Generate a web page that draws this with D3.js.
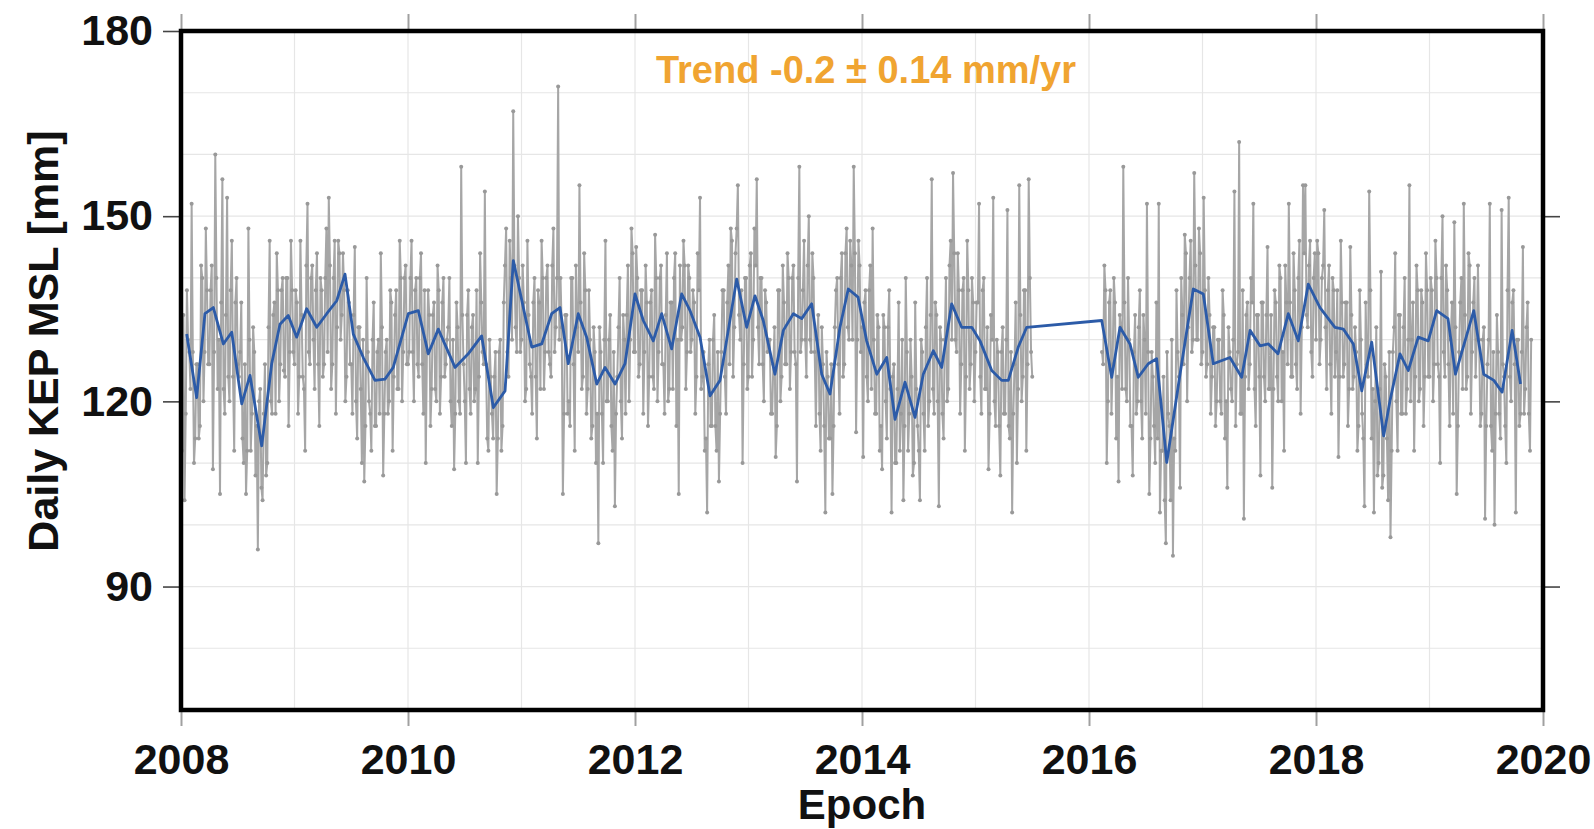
<!DOCTYPE html>
<html><head><meta charset="utf-8">
<script src="https://cdn.jsdelivr.net/npm/d3@7"></script>
<style>
body{margin:0;background:#fff}
svg{display:block}
text{font-family:"Liberation Sans",Arial,Helvetica,sans-serif;font-weight:bold}
</style>
</head><body>
<svg id="chart" width="1594" height="829"></svg>
<script>
// ---------- data ----------
const yTickValues = [90, 120, 150, 180];
const xTickValues = [2008, 2010, 2012, 2014, 2016, 2018, 2020];
const yGridValues = [80, 90, 100, 110, 120, 130, 140, 150, 160, 170];
const xGridValues = [2009, 2010, 2011, 2012, 2013, 2014, 2015, 2016, 2017, 2018, 2019];
const trendLabel = "Trend -0.2 \u00b1 0.14 mm/yr";
const yAxisTitle = "Daily KEP MSL [mm]";
const xAxisTitle = "Epoch";

// daily samples: each year array starts at the given epoch, 4 "wide" + 4 "core" samples per month
const dailyStarts = [2008, 2009, 2010, 2011, 2012, 2013, 2014, 2015, 2016 + 5/48, 2017, 2018, 2019];
const daily2008 = [112,104,138,128, 152,110,126,114, 142,120,148,126, 138,109,160,122, 105,156,118,153, 120,146,112,140,
                   124,136,110,105, 148,112,132,108, 96,122,104,126, 110,146,118,136, 144,120,138,125, 140,116,146,128];
const daily2009 = [138,118,146,124, 112,152,126,142, 122,144,116,138, 126,148,153,122, 140,118,146,130, 144,120,138,126,
                   118,145,114,132, 110,107,140,120, 112,136,116,130, 144,108,128,118, 138,112,134,122, 146,120,140,126];
const daily2010 = [128,146,120,140, 124,144,118,110, 138,116,134,122, 142,118,136,124, 130,140,116,109, 136,120,158,126,
                   110,138,118,134, 122,110,144,128, 154,114,130,118, 124,105,128,112, 136,148,124,140, 167,132,150,128];
const daily2011 = [142,120,146,126, 118,140,114,136, 146,122,140,128, 124,148,132,171, 140,105,134,118, 116,140,112,132,
                   155,122,144,118, 138,114,132,110, 97,128,110,146, 120,134,112,103, 124,140,114,130, 134,120,148,128];
const daily2012 = [145,124,138,118, 142,116,136,124, 147,120,140,126, 118,144,122,136, 140,116,105,130, 146,122,142,128,
                   138,118,144,153, 124,112,102,130, 116,134,112,107, 128,138,118,142, 148,124,144,155, 130,110,140,122];
const daily2013 = [142,124,148,156, 126,140,120,136, 130,118,126,111, 138,120,142,126, 144,122,140,128, 107,158,130,146,
                   124,150,128,140, 116,134,112,126, 102,124,114,105, 132,140,118,144, 126,148,130,142, 158,115,146,128];
const daily2014 = [111,138,120,142, 148,118,134,112, 109,132,114,138, 102,126,110,136, 118,104,140,112, 130,108,136,116,
                   104,128,112,140, 120,156,118,134, 103,130,114,140, 122,146,157,130, 144,118,138,112, 146,122,140,120];
const daily2015 = [136,152,118,140, 122,109,134,153, 116,128,108,132, 118,151,114,102, 126,110,155,120, 138,112,156,128];
const daily2016 = [128,142,110, 136,118,140,114, 107,132,158,122, 140,116,108,134, 120,138,114,130, 152,105,128,116,
                   136,152,112,124, 97,118,104,95, 112,128,106,134, 147,120,140,128, 157,130,148,126];
const daily2017 = [153,124,140,118, 132,116,130,120, 138,114,106,128, 120,154,126,162, 118,101,134,122, 140,152,116,134,
                   108,136,120,145, 122,106,138,124, 142,120,112,136, 152,124,144,126, 140,118,155,155, 132,146,124,144];
const daily2018 = [146,126,140,151, 122,142,118,138, 128,111,146,124, 136,116,145,122, 132,112,138,118, 103,126,154,114,
                   102,132,110,141, 108,124,104,98, 128,144,112,134, 118,140,122,155, 130,112,142,120, 138,116,144,124];
const daily2019 = [140,120,146,126, 110,150,124,138, 116,136,149,105, 128,140,152,122, 144,118,136,124, 142,116,130,101,
                   126,152,112,100, 134,118,151,124, 110,153,120,138, 102,130,118,145, 122,136,112];

const core2008 = [134,118,130,122, 128,114,126,116, 140,128,138,126, 142,128,140,130, 136,122,134,124, 138,124,136,126,
                  128,114,126,112, 130,118,128,116, 120,106,118,108, 132,120,134,118, 138,126,140,124, 140,128,138,126];
const core2009 = [136,124,134,122, 142,128,140,130, 138,126,140,124, 140,128,142,126, 146,132,144,134, 138,124,136,126,
                  134,120,132,122, 130,116,128,118, 130,116,128,118, 132,118,130,120, 136,124,138,122, 140,128,142,126];
const core2010 = [140,128,138,126, 140,126,138,128, 134,122,136,120, 138,124,140,126, 132,120,130,118, 132,118,134,120,
                  134,122,132,120, 138,124,136,126, 126,112,124,114, 128,114,130,116, 142,128,146,130, 142,128,140,130];
const core2011 = [136,122,134,124, 136,124,138,122, 140,128,142,126, 142,128,140,130, 132,118,134,120, 140,126,142,128,
                  136,124,138,122, 130,116,128,118, 132,118,130,120, 130,116,128,118, 132,120,134,118, 142,130,144,128];
const core2012 = [140,126,138,128, 136,124,138,122, 140,128,142,126, 134,120,136,122, 144,130,142,132, 142,128,140,130,
                  136,124,138,122, 128,114,126,116, 130,116,128,118, 138,124,136,126, 146,132,148,134, 138,126,140,124];
const core2013 = [144,130,142,132, 140,126,138,128, 130,118,132,116, 138,124,136,126, 140,128,142,126, 140,128,138,130,
                  142,130,144,128, 130,118,132,116, 128,114,126,116, 138,126,140,124, 144,132,146,130, 144,130,142,132];
const core2014 = [136,124,138,122, 130,118,132,116, 134,120,132,122, 124,110,122,112, 130,116,128,118, 124,110,122,112,
                  130,118,132,116, 134,122,136,120, 132,118,130,120, 142,130,144,128, 138,126,140,124, 138,126,136,128];
const core2015 = [136,124,138,122, 132,118,130,120, 130,116,128,118, 130,116,128,118, 136,122,134,124, 138,126,140,124];
const core2016 = [126,138,120, 138,126,136,124, 134,122,136,120, 130,116,128,118, 132,120,134,118, 128,114,124,110,
                  114,102,112,104, 128,116,130,114, 138,124,140,126, 144,132,146,130, 142,130,144,128];
const core2017 = [138,126,134,124, 132,120,130,118, 134,120,132,122, 130,116,128,118, 138,124,136,126, 136,122,134,124,
                  136,124,134,122, 134,122,136,120, 140,128,142,126, 136,124,138,122, 146,132,144,134, 142,128,140,130];
const core2018 = [144,130,142,132, 138,126,140,124, 138,124,136,126, 136,122,134,124, 128,116,130,114, 136,124,138,122,
                  120,108,122,106, 126,114,128,112, 132,120,134,118, 132,118,130,120, 136,124,138,122, 136,124,138,124];
const core2019 = [138,126,140,124, 140,128,142,126, 130,118,132,116, 136,122,134,124, 142,128,140,130, 130,118,132,116,
                  130,116,128,118, 128,114,126,116, 138,124,136,126, 130,116,128,118, 132,118,130];

const dailyYears = [daily2008, daily2009, daily2010, daily2011, daily2012, daily2013, daily2014, daily2015,
                    daily2016, daily2017, daily2018, daily2019];
const coreYears = [core2008, core2009, core2010, core2011, core2012, core2013, core2014, core2015,
                   core2016, core2017, core2018, core2019];

// monthly means (blue line)
const monthlyDates = [
  2008.050,2008.138,2008.211,2008.285,2008.373,2008.447,2008.535,2008.608,2008.711,2008.799,2008.872,2008.945,
  2009.019,2009.107,2009.196,2009.284,2009.372,2009.445,2009.518,2009.606,2009.709,2009.797,2009.870,
  2010.003,2010.091,2010.179,2010.267,2010.414,2010.531,2010.649,2010.752,2010.855,2010.928,
  2011.090,2011.178,2011.266,2011.339,2011.412,2011.500,2011.574,2011.663,2011.736,2011.824,2011.912,
  2012.000,2012.073,2012.161,2012.235,2012.323,2012.411,2012.485,2012.573,2012.661,2012.749,2012.896,2012.984,
  2013.057,2013.130,2013.233,2013.307,2013.395,2013.469,2013.557,2013.645,2013.718,2013.806,2013.879,2013.965,
  2014.041,2014.130,2014.218,2014.291,2014.379,2014.467,2014.540,2014.628,2014.702,2014.790,2014.878,2014.967,
  2015.040,2015.143,2015.231,2015.289,2015.377,2015.451,
  2016.112,2016.200,2016.273,2016.361,2016.434,2016.522,2016.596,2016.685,2016.802,2016.919,
  2017.007,2017.095,2017.242,2017.345,2017.419,2017.507,2017.581,2017.665,2017.756,2017.844,2017.932,
  2018.035,2018.167,2018.241,2018.329,2018.403,2018.491,2018.596,2018.652,2018.740,2018.813,2018.901,2018.989,
  2019.063,2019.163,2019.229,2019.390,2019.478,2019.567,2019.640,2019.728,2019.802];
const monthlyMSL = [
  130.9,120.6,134.2,135.2,129.3,131.2,119.6,124.2,112.8,126.1,132.5,133.9,
  130.4,135.0,132.0,134.2,136.3,140.6,130.9,127.1,123.4,123.6,125.5,
  134.2,134.7,127.7,131.7,125.5,127.7,130.6,119.0,121.7,142.8,
  128.8,129.3,134.2,135.2,126.1,134.2,130.4,122.8,125.5,122.8,126.1,
  137.4,133.1,129.8,134.2,128.5,137.4,134.7,130.4,120.9,123.4,139.8,132.0,
  137.1,133.1,124.4,131.5,134.2,133.4,135.8,124.4,121.2,132.0,138.2,136.9,
  129.8,124.4,127.1,117.1,123.1,117.4,124.4,128.2,125.5,135.8,132.0,132.0,
  129.8,125.0,123.4,123.4,128.8,132.0,
  133.1,123.9,132.0,129.3,123.9,126.1,126.9,110.1,124.4,138.2,
  137.4,126.1,127.1,123.9,131.5,129.0,129.3,127.7,134.2,129.8,139.0,
  135.2,132.0,131.7,129.3,121.7,129.6,114.4,120.1,127.7,125.0,130.4,129.8,
  134.7,133.4,124.4,134.7,124.4,123.4,121.5,131.5,122.8];

// ---------- drawing ----------
const svg = d3.select("#chart");
const L = 181, R = 1543, T = 31, B = 710;
const x = d3.scaleLinear().domain([2008, 2020]).range([L, R]);
const y = d3.scaleLinear().domain([70, 180]).range([B, T]);

svg.append("rect").attr("width", 1594).attr("height", 829).attr("fill", "#fff");

// grid
const grid = svg.append("g");
grid.selectAll("line.h").data(yGridValues).join("line")
  .attr("x1", L).attr("x2", R).attr("y1", d => y(d)).attr("y2", d => y(d))
  .attr("stroke", "#e6e6e6").attr("stroke-width", 1.2);
grid.selectAll("line.v").data(xGridValues).join("line")
  .attr("y1", T).attr("y2", B).attr("x1", d => x(d)).attr("x2", d => x(d))
  .attr("stroke", "#e6e6e6").attr("stroke-width", 1.2);

svg.append("clipPath").attr("id", "clip").append("rect")
  .attr("x", L).attr("y", T).attr("width", R - L).attr("height", B - T);
const plot = svg.append("g").attr("clip-path", "url(#clip)");

// daily points: wide sample then core sample, interleaved in time
function segmentPoints(list) {
  const pts = [];
  list.forEach(i => {
    dailyYears[i].forEach((v, k) => {
      pts.push([dailyStarts[i] + (k + 0.5) / 48, v]);
      pts.push([dailyStarts[i] + (k + 1.0) / 48, coreYears[i][k]]);
    });
  });
  return pts;
}
const segA = segmentPoints([0, 1, 2, 3, 4, 5, 6, 7]);
const segB = segmentPoints([8, 9, 10, 11]);
const line = d3.line().x(d => x(d[0])).y(d => y(d[1]));
[segA, segB].forEach(seg => {
  plot.append("path").attr("d", line(seg)).attr("fill", "none")
    .attr("stroke", "#a6a6a6").attr("stroke-width", 2.0).attr("stroke-linejoin", "round");
  plot.append("g").selectAll("circle").data(seg).join("circle")
    .attr("cx", d => x(d[0])).attr("cy", d => y(d[1])).attr("r", 2.0)
    .attr("fill", "#999999");
});

// monthly line
const monthly = monthlyDates.map((d, i) => [d, monthlyMSL[i]]);
plot.append("path").attr("d", line(monthly)).attr("fill", "none")
  .attr("stroke", "#2c5ba8").attr("stroke-width", 2.8).attr("stroke-linejoin", "round");

// axes
const fmt = d3.format("d");
const axL = svg.append("g").attr("transform", `translate(${L},0)`)
  .call(d3.axisLeft(y).tickValues(yTickValues).tickSize(18).tickPadding(10).tickFormat(fmt));
const axB = svg.append("g").attr("transform", `translate(0,${B})`)
  .call(d3.axisBottom(x).tickValues(xTickValues).tickSize(16).tickPadding(17).tickFormat(fmt));
const axT = svg.append("g").attr("transform", `translate(0,${T})`)
  .call(d3.axisTop(x).tickValues(xTickValues).tickSize(17).tickFormat(""));
const axR = svg.append("g").attr("transform", `translate(${R},0)`)
  .call(d3.axisRight(y).tickValues([90, 120, 150]).tickSize(17).tickFormat(""));
[axL, axB, axT, axR].forEach(a => a.select(".domain").remove());
axL.selectAll("line").attr("stroke", "#444").attr("stroke-width", 1.6);
axR.selectAll("line").attr("stroke", "#444").attr("stroke-width", 1.6);
axB.selectAll("line").attr("stroke", "#a0a0a0").attr("stroke-width", 2);
axT.selectAll("line").attr("stroke", "#a0a0a0").attr("stroke-width", 2);
[axL, axB].forEach(a => a.selectAll("text").attr("font-size", 43).attr("fill", "#111")
  .attr("font-family", "'Liberation Sans', Arial, sans-serif").attr("font-weight", "bold"));

// frame
svg.append("rect").attr("x", L).attr("y", T).attr("width", R - L).attr("height", B - T)
  .attr("fill", "none").attr("stroke", "#000").attr("stroke-width", 4.5);

// texts
svg.append("text").attr("x", 866).attr("y", 83).attr("text-anchor", "middle")
  .attr("font-size", 38).attr("fill", "#f0a431").text(trendLabel);
svg.append("text").attr("transform", `translate(58,341) rotate(-90)`).attr("text-anchor", "middle")
  .attr("font-size", 43).attr("fill", "#111").text(yAxisTitle);
svg.append("text").attr("x", 862).attr("y", 819).attr("text-anchor", "middle")
  .attr("font-size", 42).attr("fill", "#111").text(xAxisTitle);
</script>
</body></html>
